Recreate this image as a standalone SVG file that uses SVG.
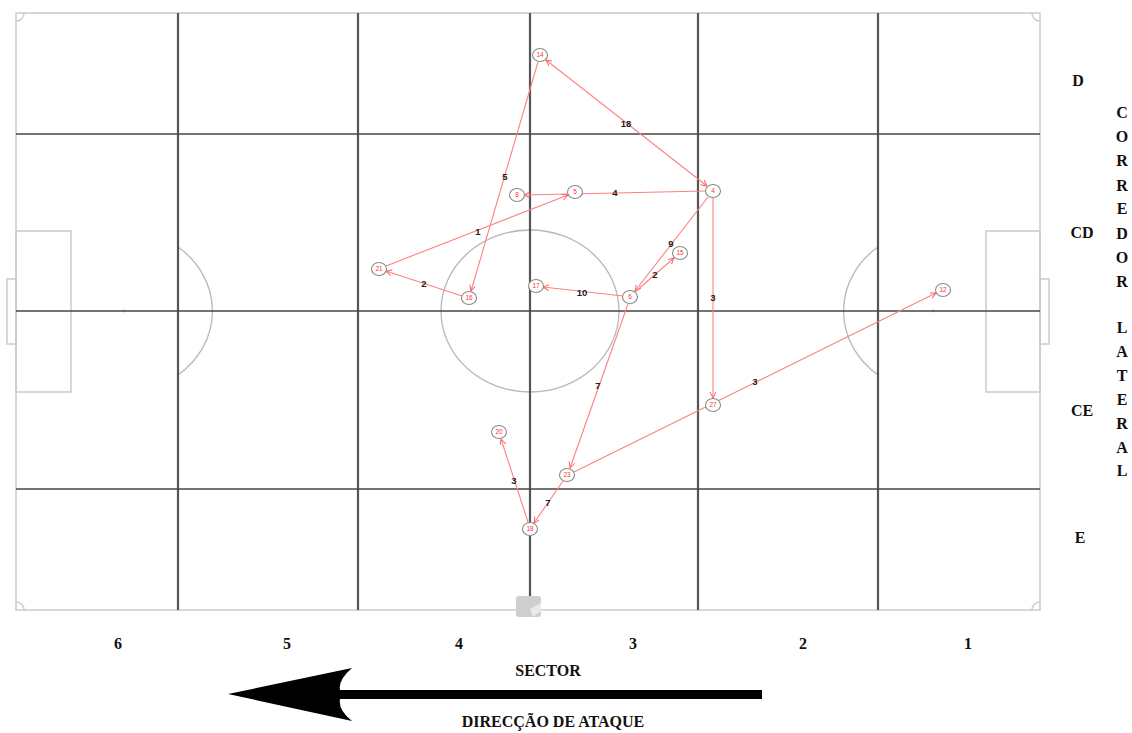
<svg xmlns="http://www.w3.org/2000/svg" width="1132" height="733" viewBox="0 0 1132 733">
<style>
.field{fill:none;stroke:#c9cccc;stroke-width:1.5}
.arc{fill:none;stroke:#b5b9b9;stroke-width:1.3}
.vl{stroke:#555;stroke-width:2.2}
.hl{stroke:#444;stroke-width:1.7}
.edge{stroke:#ff8080;stroke-width:1.1;fill:none;marker-end:url(#ah)}
.node ellipse{fill:#fff;stroke:#8a8a8a;stroke-width:1.1}
.node text{font-family:"Liberation Sans",Arial,sans-serif;font-size:6.5px;fill:#ff3030;text-anchor:middle}
.el{font-family:"Liberation Sans",Arial,sans-serif;font-size:9.5px;font-weight:bold;fill:#222;text-anchor:middle}
.lab{font-family:"Liberation Serif","Times New Roman",serif;font-weight:bold;font-size:16px;fill:#111;text-anchor:middle}
</style>
<defs>
<marker id="ah" markerWidth="8" markerHeight="8" refX="6" refY="3" orient="auto" markerUnits="userSpaceOnUse">
<path d="M0,0 L6,3 L0,6" fill="none" stroke="#ff6060" stroke-width="1"/>
</marker>
<marker id="ahs" markerWidth="8" markerHeight="8" refX="0" refY="3" orient="auto" markerUnits="userSpaceOnUse">
<path d="M6,0 L0,3 L6,6" fill="none" stroke="#ff6060" stroke-width="1"/>
</marker>
</defs>
<rect width="1132" height="733" fill="#fff"/>
<g id="pitch">
<rect class="field" x="16" y="13" width="1024" height="597"/>
<rect class="field" x="16" y="231" width="55" height="161"/>
<rect class="field" x="7" y="279" width="9" height="65"/>
<rect class="field" x="986" y="231" width="54" height="161"/>
<rect class="field" x="1040" y="279" width="9" height="65"/>
<path class="field" d="M16,21 A8,8 0 0 0 24,13 M1032,13 A8,8 0 0 0 1040,21 M1040,602 A8,8 0 0 0 1032,610 M24,610 A8,8 0 0 0 16,602"/>
<ellipse class="arc" cx="530" cy="311" rx="89" ry="81"/>
<path class="arc" d="M178,247 A89,81 0 0 1 178,375"/>
<path class="arc" d="M878,247 A89,81 0 0 0 878,375"/>
<line class="vl" x1="178" y1="13" x2="178" y2="610"/>
<line class="vl" x1="358" y1="13" x2="358" y2="610"/>
<line class="vl" x1="530" y1="13" x2="530" y2="610"/>
<line class="vl" x1="698" y1="13" x2="698" y2="610"/>
<line class="vl" x1="878" y1="13" x2="878" y2="610"/>
<line class="hl" x1="16" y1="134" x2="1040" y2="134"/>
<line class="hl" x1="16" y1="311" x2="1040" y2="311"/>
<line class="hl" x1="16" y1="489" x2="1040" y2="489"/>
<circle cx="124" cy="311" r="1.3" fill="#666"/>
<circle cx="933" cy="311" r="1.3" fill="#666"/>
<rect x="516" y="596" width="25" height="21" rx="3" fill="#cfcfcf"/>
<path d="M530,609 L541,603 L541,611 L533,617 Z" fill="#eaeaea"/>
</g>
<g id="connectors">
<line class="edge" x1="538" y1="62" x2="471" y2="291"/>
<line class="edge" x1="707" y1="186" x2="546" y2="60" marker-start="url(#ahs)"/>
<line class="edge" x1="706" y1="191" x2="524" y2="195"/>
<line class="edge" x1="386" y1="266" x2="568" y2="195"/>
<line class="edge" x1="462" y1="296" x2="386" y2="271"/>
<line class="edge" x1="623" y1="296" x2="543" y2="287"/>
<line class="edge" x1="708" y1="197" x2="635" y2="291"/>
<line class="edge" x1="635" y1="292" x2="674" y2="258"/>
<line class="edge" x1="713" y1="198" x2="713" y2="398"/>
<line class="edge" x1="574" y1="472" x2="936" y2="293"/>
<line class="edge" x1="628" y1="304" x2="570" y2="468"/>
<line class="edge" x1="563" y1="481" x2="534" y2="523"/>
<line class="edge" x1="528" y1="522" x2="501" y2="439"/>
<text class="el" x="626" y="127">18</text>
<text class="el" x="505" y="180">5</text>
<text class="el" x="615" y="196">4</text>
<text class="el" x="478" y="235">1</text>
<text class="el" x="424" y="287">2</text>
<text class="el" x="582" y="296">10</text>
<text class="el" x="671" y="247">9</text>
<text class="el" x="655" y="278">2</text>
<text class="el" x="713" y="301">3</text>
<text class="el" x="755" y="385">3</text>
<text class="el" x="598" y="389">7</text>
<text class="el" x="548" y="506">7</text>
<text class="el" x="514" y="484">3</text>
</g>
<g id="n14" class="node"><ellipse cx="540" cy="55" rx="7.5" ry="6.5"/><text x="540" y="57.3">14</text></g>
<g id="n8" class="node"><ellipse cx="517" cy="195" rx="7.5" ry="6.5"/><text x="517" y="197.3">8</text></g>
<g id="n5" class="node"><ellipse cx="575" cy="192" rx="7.5" ry="6.5"/><text x="575" y="194.3">5</text></g>
<g id="n4" class="node"><ellipse cx="713" cy="191" rx="7.5" ry="6.5"/><text x="713" y="193.3">4</text></g>
<g id="n21" class="node"><ellipse cx="379" cy="269" rx="7.5" ry="6.5"/><text x="379" y="271.3">21</text></g>
<g id="n16" class="node"><ellipse cx="469" cy="298" rx="7.5" ry="6.5"/><text x="469" y="300.3">16</text></g>
<g id="n17" class="node"><ellipse cx="536" cy="286" rx="7.5" ry="6.5"/><text x="536" y="288.3">17</text></g>
<g id="n6" class="node"><ellipse cx="630" cy="297" rx="7.5" ry="6.5"/><text x="630" y="299.3">6</text></g>
<g id="n15" class="node"><ellipse cx="680" cy="253" rx="7.5" ry="6.5"/><text x="680" y="255.3">15</text></g>
<g id="n12" class="node"><ellipse cx="943" cy="290" rx="7.5" ry="6.5"/><text x="943" y="292.3">12</text></g>
<g id="n27" class="node"><ellipse cx="713" cy="405" rx="7.5" ry="6.5"/><text x="713" y="407.3">27</text></g>
<g id="n20" class="node"><ellipse cx="499" cy="432" rx="7.5" ry="6.5"/><text x="499" y="434.3">20</text></g>
<g id="n23" class="node"><ellipse cx="567" cy="475" rx="7.5" ry="6.5"/><text x="567" y="477.3">23</text></g>
<g id="n18" class="node"><ellipse cx="530" cy="529" rx="7.5" ry="6.5"/><text x="530" y="531.3">18</text></g>
<g id="labels">
<text class="lab" x="1078" y="86">D</text>
<text class="lab" x="1082" y="238">CD</text>
<text class="lab" x="1082" y="416">CE</text>
<text class="lab" x="1080" y="543">E</text>
<text class="lab" x="1122" y="118">C</text>
<text class="lab" x="1122" y="142">O</text>
<text class="lab" x="1122" y="166">R</text>
<text class="lab" x="1122" y="191">R</text>
<text class="lab" x="1122" y="214">E</text>
<text class="lab" x="1122" y="239">D</text>
<text class="lab" x="1122" y="263">O</text>
<text class="lab" x="1122" y="287">R</text>
<text class="lab" x="1122" y="333">L</text>
<text class="lab" x="1122" y="357">A</text>
<text class="lab" x="1122" y="381">T</text>
<text class="lab" x="1122" y="405">E</text>
<text class="lab" x="1122" y="429">R</text>
<text class="lab" x="1122" y="453">A</text>
<text class="lab" x="1122" y="476">L</text>
<text class="lab" x="118" y="649">6</text>
<text class="lab" x="287" y="649">5</text>
<text class="lab" x="459" y="649">4</text>
<text class="lab" x="633" y="649">3</text>
<text class="lab" x="803" y="649">2</text>
<text class="lab" x="968" y="649">1</text>
<text class="lab" x="548" y="676">SECTOR</text>
<text class="lab" x="553" y="727">DIRECÇÃO DE ATAQUE</text>
</g>
<g id="attack-arrow">
<path d="M228,694 L352,668 Q338,680 340,690 L762,690 L762,699 L340,699 Q338,710 352,721 Z" fill="#000"/>
</g>
</svg>
